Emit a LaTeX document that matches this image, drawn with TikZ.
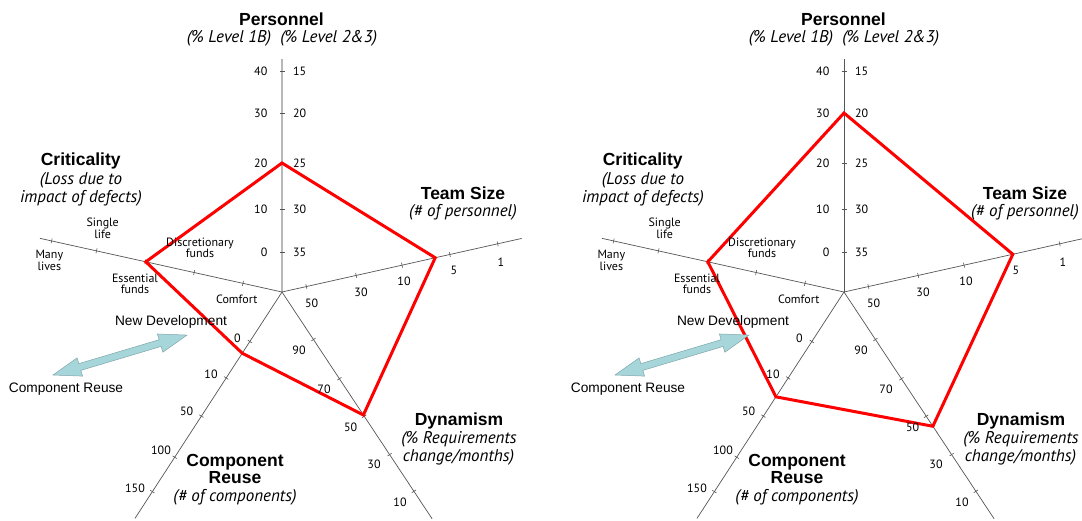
\documentclass[tikz,border=0pt]{standalone}
\usepackage{fontspec}
\setmainfont{PT Sans}
\newfontfamily\arialfont{Liberation Sans}
\usetikzlibrary{calc}

\definecolor{axisgray}{HTML}{555555}
\definecolor{lightaxis}{HTML}{B8B8B8}
\definecolor{reusefill}{HTML}{A7D6DA}
\definecolor{reuseedge}{HTML}{7FA6AA}

\tikzset{
  axisline/.style={draw=axisgray, line width=0.7pt},
  paleaxis/.style={draw=lightaxis, line width=1.6pt},
  tickline/.style={draw=axisgray, line width=0.6pt},
  polyline/.style={draw=red, line width=3pt, line join=miter},
  title/.style={font=\arialfont\bfseries\fontsize{17.5}{17.5}\selectfont, inner sep=0pt},
  subtitle/.style={font=\itshape\fontsize{17}{17}\selectfont, inner sep=0pt},
  num/.style={font=\fontsize{12}{12}\selectfont, inner sep=0pt},
  lvl/.style={font=\fontsize{12}{11}\selectfont, inner sep=0pt, align=center},
  reuselabel/.style={font=\arialfont\fontsize{13.7}{13.7}\selectfont, inner sep=0pt},
  reusearrow/.style={fill=reusefill, draw=reuseedge, line width=0.5pt, line join=miter},
}

% One radar chart: #1 name prefix, #2 style of the Personnel axis,
% #3..#7 polygon radii on Personnel, Team Size, Dynamism, Component Reuse, Criticality
\newcommand\radarchart[7]{%
  % Personnel (vertical)
  \begin{scope}[shift={(282,292)}]
    \coordinate (#1-c) at (0,0);
    \draw[#2] (#1-c) -- (0,-233) coordinate (#1-pend);
    \foreach \d in {40,83,129,179,221} \draw[tickline] (-2.5,-\d) -- (2.5,-\d);
    \coordinate (#1-pv) at (0,-#3);
  \end{scope}
  % Team Size
  \begin{scope}[shift={(282,292)}, rotate=12.6]
    \draw[axisline] (0,0) -- (245.6,0) coordinate (#1-tend);
    \foreach \d in {25,76,123,172,221} \draw[tickline] (\d,-2.5) -- (\d,2.5);
    \coordinate (#1-tv) at (#4,0);
  \end{scope}
  % Dynamism
  \begin{scope}[shift={(282,292)}, rotate=-56.5]
    \draw[axisline] (0,0) -- (272,0) coordinate (#1-dend);
    \foreach \d in {57,104,149,195,239} \draw[tickline] (\d,-2.5) -- (\d,2.5);
    \coordinate (#1-dv) at (#5,0);
  \end{scope}
  % Component Reuse
  \begin{scope}[shift={(282,292)}, rotate=-123]
    \draw[axisline] (0,0) -- (270,0) coordinate (#1-rend);
    \foreach \d in {59,102.5,148,197,238} \draw[tickline] (\d,-2.5) -- (\d,2.5);
    \coordinate (#1-rv) at (#6,0);
  \end{scope}
  % Criticality
  \begin{scope}[shift={(282,292)}, rotate=167.5]
    \draw[axisline] (0,0) -- (248,0) coordinate (#1-kend);
    \foreach \d in {40,90,140,190,236} \draw[tickline] (\d,-2.5) -- (\d,2.5);
    \coordinate (#1-kv) at (#7,0);
  \end{scope}
  % profile polygon
  \draw[polyline] (#1-pv) -- (#1-tv) -- (#1-dv) -- (#1-rv) -- (#1-kv) -- cycle;
  % Personnel scale
  \foreach \y/\a/\b [count=\i] in {71/40/15, 113/30/20, 163/20/25, 209/10/30, 252/0/35}{
    \node[num, anchor=east] (#1-pa\i) at (267.5,\y) {\a};
    \node[num, anchor=west] (#1-pb\i) at (293,\y) {\b};
  }
  % Team Size scale
  \foreach \x/\y/\t [count=\i] in {311.7/303/50, 361/292.7/30, 404/281.7/10, 454/270/5, 501/262/1}
    \node[num] (#1-ts\i) at (\x,\y) {\t};
  % Dynamism scale
  \foreach \x/\y/\t [count=\i] in {299/350/90, 324/389/70, 350.7/427/50, 374/464/30, 400/502/10}
    \node[num] (#1-dy\i) at (\x,\y) {\t};
  % Component Reuse scale
  \foreach \x/\y/\t [count=\i] in {237.3/338.3/0, 211/374.3/10, 186.7/411/50, 161/450.7/100, 135/488.3/150}
    \node[num] (#1-cr\i) at (\x,\y) {\t};
  % Criticality levels
  \node[lvl] (#1-comfort) at (236.7,299) {Comfort};
  \node[lvl] (#1-essential) at (135,284) {Essential\\funds};
  \node[lvl] (#1-discr) at (200,248) {Discretionary\\funds};
  \node[lvl] (#1-single) at (102.7,228.3) {Single\\life};
  \node[lvl, font=\fontsize{12}{12.5}\selectfont] (#1-many) at (49.3,260.3) {Many\\lives};
  % axis titles
  \node[title] (#1-pers) at (281.5,19.5) {Personnel};
  \node[subtitle] (#1-perssub) at (282,38) {(\% Level 1B)\ \ (\% Level 2\&3)};
  \node[title] (#1-crit) at (80.7,161) {Criticality};
  \node[subtitle] (#1-critsub1) at (81,180) {(Loss due to};
  \node[subtitle] (#1-critsub2) at (81,198) {impact of defects)};
  \node[title] (#1-team) at (463,193) {Team Size};
  \node[subtitle] (#1-teamsub) at (463,212) {(\# of personnel)};
  \node[title] (#1-dyn) at (459,421) {Dynamism};
  \node[subtitle] (#1-dynsub1) at (459,439) {(\% Requirements};
  \node[subtitle] (#1-dynsub2) at (458.5,457) {change/months)};
  \node[title] (#1-comp1) at (235,462) {Component};
  \node[title] (#1-comp2) at (235,478) {Reuse};
  \node[subtitle] (#1-compsub) at (235,497) {(\# of components)};
  % reuse / new development arrow
  \node[reuselabel] (#1-newdev) at (171,321.7) {New Development};
  \node[reuselabel] (#1-reuse) at (66,389) {Component Reuse};
  \coordinate (#1-aleft) at (53,375);
  \begin{scope}[shift={(#1-aleft)}, rotate=16.6]
    \draw[reusearrow] (0,0) -- (28,-9.5) -- (28,-3.5) -- (111.8,-3.5) -- (111.8,-9.5)
      -- (139.8,0) coordinate (#1-aright) -- (111.8,9.5) -- (111.8,3.5) -- (28,3.5) -- (28,9.5) -- cycle;
  \end{scope}
}

\begin{document}
\begin{tikzpicture}[x=1pt, y=-1pt]
  \fill[white] (0,0) rectangle (1082,520);
  \useasboundingbox (0,0) rectangle (1082,520);
  \radarchart{L}{paleaxis}{129}{157}{147.5}{73}{139.5}
  \begin{scope}[xshift=562pt]
    \radarchart{R}{axisline}{179}{173}{161}{125}{139.5}
  \end{scope}
\end{tikzpicture}
\end{document}
